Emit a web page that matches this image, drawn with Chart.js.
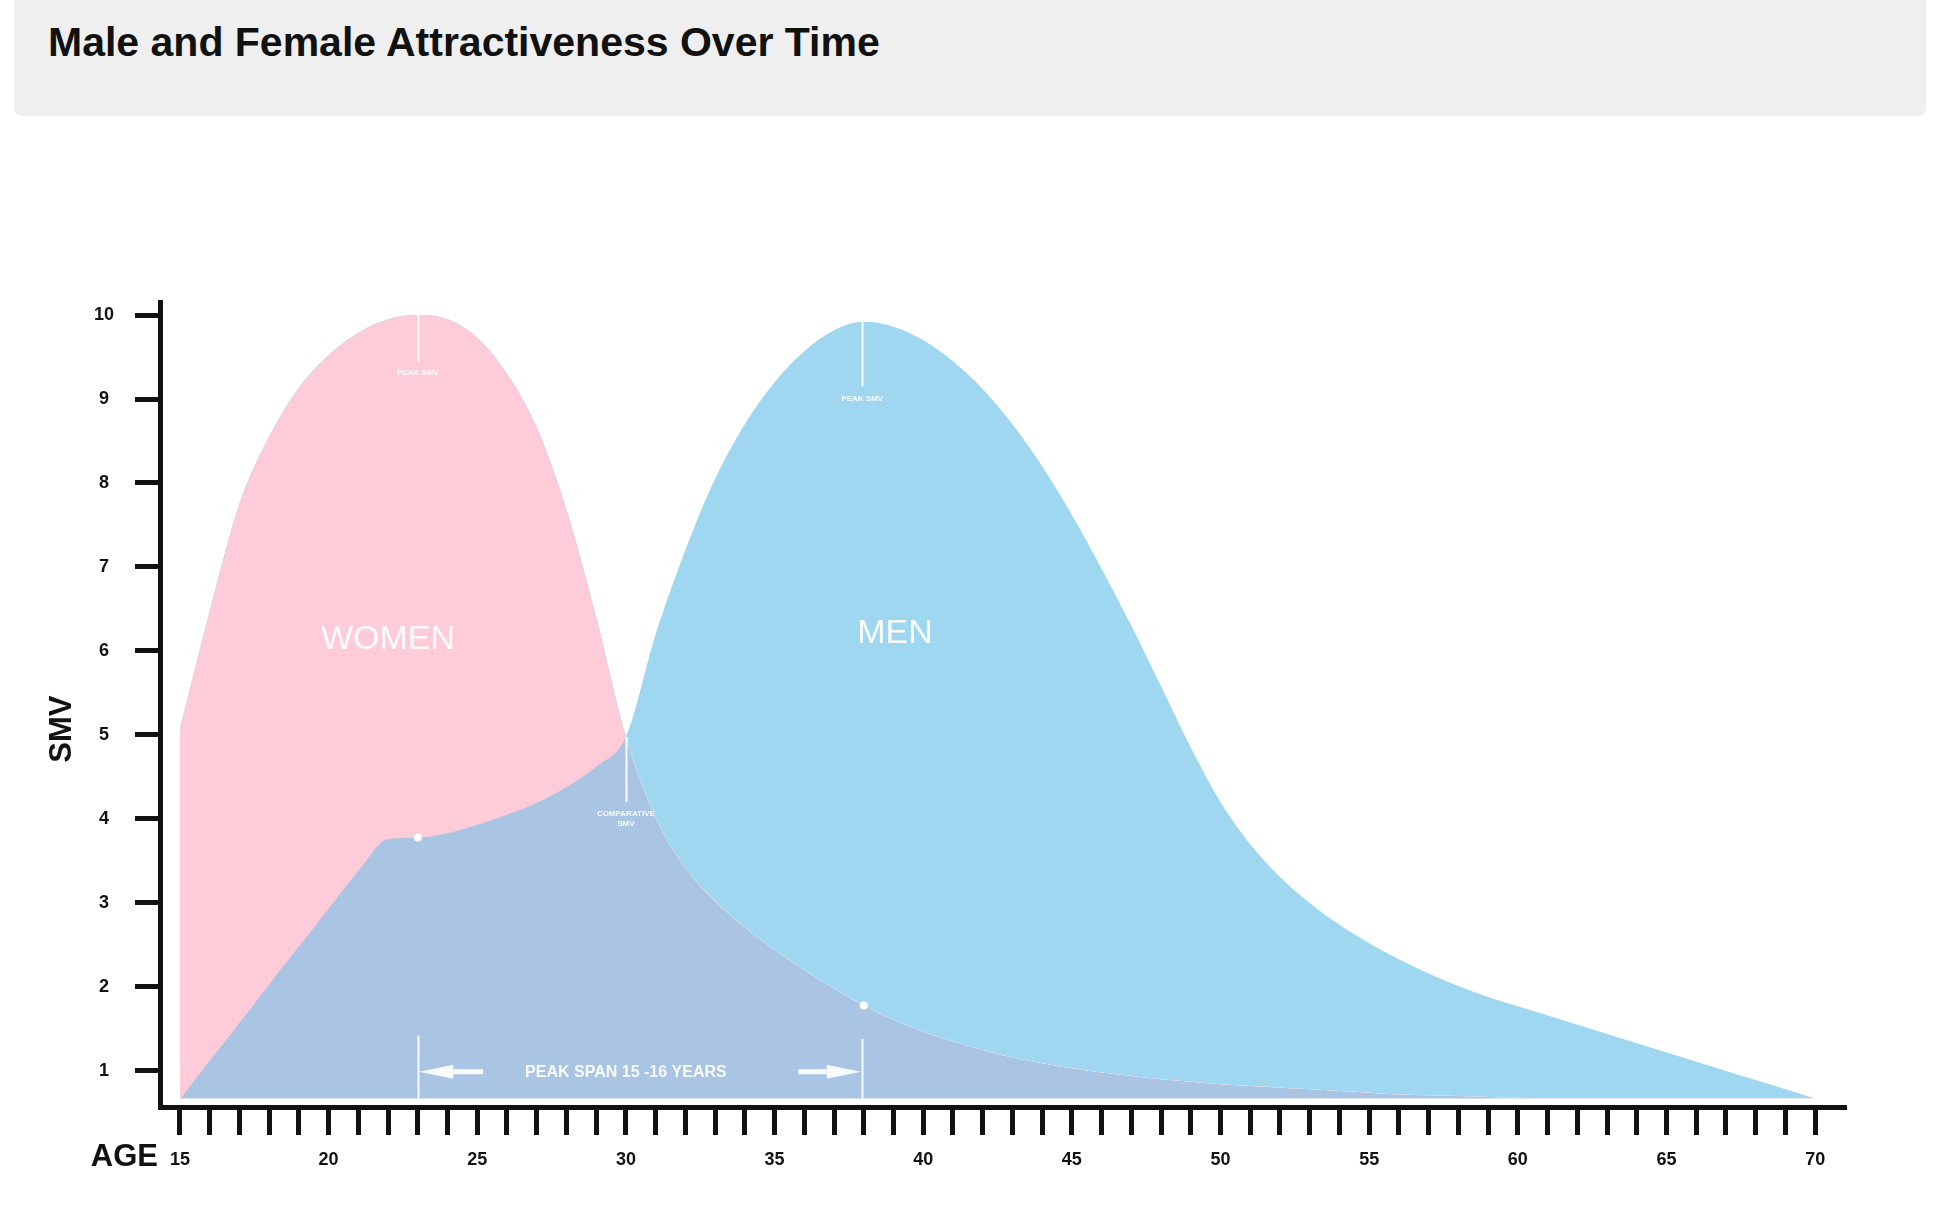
<!DOCTYPE html>
<html>
<head>
<meta charset="utf-8">
<title>Male and Female Attractiveness Over Time</title>
<script src="https://cdn.jsdelivr.net/npm/chart.js@4.4.1/dist/chart.umd.min.js"></script>
<style>
  html, body { margin: 0; padding: 0; background: #fff; }
  body { width: 1941px; height: 1225px; position: relative; overflow: hidden; font-family: "Liberation Sans", Arial, sans-serif; }
  #header { position: absolute; left: 14px; top: -10px; width: 1912px; height: 126px; background: #efefef; border-radius: 8px; }
  #header h1 { position: absolute; left: 34px; top: 32px; margin: 0; font-size: 41px; line-height: 41px; font-weight: bold; color: #111; white-space: nowrap; }
  #chart-box { position: absolute; left: 0; top: 116px; width: 1941px; height: 1109px; }
</style>
</head>
<body>
<div id="header"><h1>Male and Female Attractiveness Over Time</h1></div>
<div id="chart-box"><canvas id="smv-chart"></canvas></div>

<script>
// Age of each point, one per year
const ages = [15, 16, 17, 18, 19, 20, 21, 22, 23, 24, 25, 26, 27, 28, 29, 30,
              31, 32, 33, 34, 35, 36, 37, 38, 39, 40, 41, 42, 43, 44, 45, 46,
              47, 48, 49, 50, 51, 52, 53, 54, 55, 56, 57, 58, 59, 60, 61, 62,
              63, 64, 65, 66, 67, 68, 69, 70];

// SMV
const women = [5.07, 6.47, 7.75, 8.55, 9.13, 9.52, 9.79, 9.95, 10.0, 9.95, 9.73, 9.3, 8.66, 7.68, 6.4, 4.98,
               4.02, 3.42, 3.02, 2.71, 2.44, 2.2, 1.98, 1.78, 1.61, 1.47, 1.35, 1.25, 1.16, 1.09, 1.03, 0.98,
               0.94, 0.9, 0.87, 0.84, 0.82, 0.8, 0.78, 0.76, 0.74, 0.72, 0.71, 0.7, 0.69, 0.68, 0.67, 0.67,
               0.67, 0.67, 0.67, 0.67, 0.67, 0.67, 0.67, 0.67];
const men = [0.66, 1.12, 1.57, 2.03, 2.48, 2.93, 3.38, 3.76, 3.78, 3.83, 3.93, 4.05, 4.19, 4.38, 4.62, 4.98,
             6.2, 7.2, 8.05, 8.7, 9.2, 9.57, 9.82, 9.92, 9.86, 9.7, 9.45, 9.12, 8.7, 8.2, 7.62, 6.98,
             6.3, 5.58, 4.85, 4.2, 3.7, 3.31, 3.0, 2.74, 2.52, 2.33, 2.16, 2.01, 1.88, 1.77, 1.66, 1.55,
             1.44, 1.33, 1.22, 1.11, 1.0, 0.89, 0.78, 0.67];

const ageLabels = [15, 20, 25, 30, 35, 40, 45, 50, 55, 60, 65, 70];
const smvTicks = [1, 2, 3, 4, 5, 6, 7, 8, 9, 10];

// marked points
const menDotAge = 23;
const womenDotAge = 38;

const FONT = '"Liberation Sans", Arial, sans-serif';
const PINK = '#fecbd9';
const BLUE = '#9fd7f1';
const OVERLAP = '#aac4e4';
const WHITE = 'rgba(255,255,255,0.92)';
const INK = '#121212';

Chart.defaults.font.family = FONT;

// white notes drawn on top of the areas
const notes = {
    id: 'notes',
    afterDatasetsDraw(chart) {
        const ctx = chart.ctx;
        const x = chart.scales.x;
        const y = chart.scales.y;

        function vline(age, v1, v2) {
            const px = Math.round(x.getPixelForValue(age)) + 0.5;
            ctx.beginPath();
            ctx.moveTo(px, y.getPixelForValue(v1));
            ctx.lineTo(px, y.getPixelForValue(v2));
            ctx.stroke();
        }
        function text(str, age, v, font) {
            ctx.font = font;
            ctx.fillText(str, x.getPixelForValue(age), y.getPixelForValue(v));
        }
        function arrow(fromAge, toAge, v) {
            const x1 = x.getPixelForValue(fromAge);
            const x2 = x.getPixelForValue(toAge);
            const py = y.getPixelForValue(v);
            const dir = Math.sign(x2 - x1);
            const head = 34;
            const base = x2 - dir * head;
            ctx.fillRect(Math.min(x1, base), py - 2.5, Math.abs(base - x1), 5);
            ctx.beginPath();
            ctx.moveTo(x2, py);
            ctx.lineTo(base, py - 7);
            ctx.lineTo(base, py + 7);
            ctx.closePath();
            ctx.fill();
        }

        ctx.save();
        ctx.strokeStyle = WHITE;
        ctx.fillStyle = WHITE;
        ctx.lineWidth = 2;
        ctx.textAlign = 'center';
        ctx.textBaseline = 'middle';

        // peaks
        vline(23, 10.0, 9.44);
        text('PEAK SMV', 23, 9.31, 'bold 8px ' + FONT);
        vline(37.95, 9.92, 9.15);
        text('PEAK SMV', 37.95, 9.0, 'bold 8px ' + FONT);

        // crossing point
        vline(30, 4.98, 4.2);
        text('COMPARATIVE', 30, 4.06, 'bold 8px ' + FONT);
        text('SMV', 30, 3.94, 'bold 8px ' + FONT);

        text('WOMEN', 22, 6.13, '34px ' + FONT);
        text('MEN', 39.05, 6.21, '34px ' + FONT);

        // peak span
        vline(23, 1.42, 0.67);
        vline(37.95, 1.38, 0.67);
        arrow(25.2, 23.05, 0.99);
        arrow(35.8, 37.9, 0.99);
        text('PEAK SPAN 15 -16 YEARS', 30, 0.98, 'bold 16px ' + FONT);
        ctx.restore();
    },
    afterDraw(chart) {
        const ctx = chart.ctx;
        const area = chart.chartArea;
        const x = chart.scales.x;
        const y = chart.scales.y;
        ctx.save();
        ctx.fillStyle = INK;
        ctx.font = 'bold 31px ' + FONT;

        ctx.textAlign = 'right';
        ctx.textBaseline = 'alphabetic';
        ctx.fillText('AGE', x.getPixelForValue(15) - 22, area.bottom + 59);

        ctx.translate(area.left - 98, y.getPixelForValue(5.07));
        ctx.rotate(-Math.PI / 2);
        ctx.textAlign = 'center';
        ctx.textBaseline = 'middle';
        ctx.fillText('SMV', 0, 0);
        ctx.restore();
    }
};

const axisGrid = {
    drawOnChartArea: false,
    drawTicks: true,
    color: INK,
    lineWidth: 5,
    tickWidth: 5,
    tickColor: INK
};
const axisBorder = { display: true, color: INK, width: 5 };
const tickFont = { family: FONT, size: 18, weight: 'bold' };

new Chart(document.getElementById('smv-chart'), {
    type: 'line',
    data: {
        datasets: [{
            label: 'Women',
            data: ages.map((a, i) => ({ x: a, y: women[i] })),
            backgroundColor: OVERLAP,
            borderWidth: 0,
            fill: { value: 0.67 },
            cubicInterpolationMode: 'monotone',
            pointRadius: ctx => ages[ctx.dataIndex] === womenDotAge ? 4 : 0,
            pointBackgroundColor: '#fff',
            pointBorderWidth: 0,
            order: 2
        }, {
            label: 'Men',
            data: ages.map((a, i) => ({ x: a, y: men[i] })),
            backgroundColor: BLUE,
            borderWidth: 0,
            fill: { target: 0, above: BLUE, below: PINK },
            cubicInterpolationMode: 'monotone',
            pointRadius: ctx => ages[ctx.dataIndex] === menDotAge ? 4 : 0,
            pointBackgroundColor: '#fff',
            pointBorderWidth: 0,
            order: 1
        }]
    },
    options: {
        responsive: true,
        maintainAspectRatio: false,
        animation: false,
        events: [],
        layout: { padding: { top: 186, right: 97, left: 0, bottom: 0 } },
        plugins: {
            legend: { display: false },
            tooltip: { enabled: false },
            filler: { drawTime: 'beforeDatasetsDraw' }
        },
        scales: {
            x: {
                type: 'linear',
                min: 14.33,
                max: 70.97,
                afterBuildTicks: s => { s.ticks = ages.map(v => ({ value: v })); },
                afterFit: s => { s.height = 118; },
                grid: Object.assign({ tickLength: 28 }, axisGrid),
                border: axisBorder,
                ticks: {
                    padding: 14,
                    color: INK,
                    font: tickFont,
                    autoSkip: false,
                    maxRotation: 0,
                    callback: v => ageLabels.includes(v) ? String(v) : ''
                }
            },
            y: {
                type: 'linear',
                min: 0.57,
                max: 10.155,
                afterBuildTicks: s => { s.ticks = smvTicks.map(v => ({ value: v })); },
                afterFit: s => { s.width = 160; },
                grid: Object.assign({ tickLength: 25 }, axisGrid),
                border: axisBorder,
                ticks: {
                    padding: 21,
                    crossAlign: 'center',
                    color: INK,
                    font: tickFont,
                    callback: v => String(v)
                }
            }
        }
    },
    plugins: [notes]
});
</script>
</body>
</html>
